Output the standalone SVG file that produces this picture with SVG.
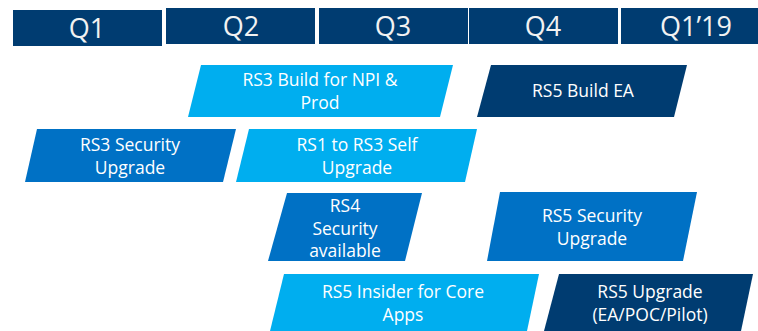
<svg xmlns="http://www.w3.org/2000/svg" width="758" height="331" viewBox="0 0 758 331">
<style>
.hdr{fill:#003C71}
.dark{fill:#003C71}
.mid{fill:#0071C5}
.light{fill:#00AEEF}
.ht{font-family:"Open Sans","Noto Sans",sans-serif;font-size:27px;fill:#F2F2F2;text-anchor:middle}
.t{font-family:"Open Sans","Noto Sans",sans-serif;font-size:17.5px;fill:#FFFFFF;text-anchor:middle}
</style>
<rect width="758" height="331" fill="#FFFFFF"/>
<g id="header-q1"><rect class="hdr" x="13" y="10" width="149" height="36"/><text class="ht" x="87" y="38">Q1</text></g>
<g id="header-q2"><rect class="hdr" x="166" y="8" width="149" height="36"/><text class="ht" x="241" y="36">Q2</text></g>
<g id="header-q3"><rect class="hdr" x="319" y="8" width="149" height="36"/><text class="ht" x="393" y="36">Q3</text></g>
<g id="header-q4"><rect class="hdr" x="469" y="8" width="149" height="36"/><text class="ht" x="543" y="36">Q4</text></g>
<g id="header-q1-19"><rect class="hdr" x="621" y="8" width="137" height="36"/><text class="ht" x="696" y="36">Q1’19</text></g>

<g id="rs3-build"><polygon class="light" points="201,65 453,65 440,117 188,117"/>
<text class="t" x="320" y="86">RS3 Build for NPI &amp;</text><text class="t" x="320" y="109">Prod</text></g>
<g id="rs5-build-ea"><polygon class="dark" points="491,65 687,65 674,117 477,117"/>
<text class="t" x="583" y="97">RS5 Build EA</text></g>
<g id="rs3-security"><polygon class="mid" points="37,129 236,129 223,182 25,182"/>
<text class="t" x="130" y="151">RS3 Security</text><text class="t" x="130" y="174">Upgrade</text></g>
<g id="rs1-rs3-self"><polygon class="light" points="249,129 477,129 465,182 236,182"/>
<text class="t" x="357" y="151">RS1 to RS3 Self</text><text class="t" x="357" y="174">Upgrade</text></g>
<g id="rs4-security"><polygon class="mid" points="287,193 422,193 405,261 268,261"/>
<text class="t" x="345" y="212">RS4</text><text class="t" x="345" y="235">Security</text><text class="t" x="345" y="257">available</text></g>
<g id="rs5-security"><polygon class="mid" points="500,192 697,192 683,261 487,261"/>
<text class="t" x="592" y="222">RS5 Security</text><text class="t" x="592" y="245">Upgrade</text></g>
<g id="rs5-insider"><polygon class="light" points="284,274 539,274 527,331 270,331"/>
<text class="t" x="403" y="298">RS5 Insider for Core</text><text class="t" x="403" y="321">Apps</text></g>
<g id="rs5-upgrade"><polygon class="dark" points="559,274 753,274 741,331 544,331"/>
<text class="t" x="650" y="298">RS5 Upgrade</text><text class="t" x="650" y="321">(EA/POC/Pilot)</text></g>
<g id="connectors"/>
</svg>
